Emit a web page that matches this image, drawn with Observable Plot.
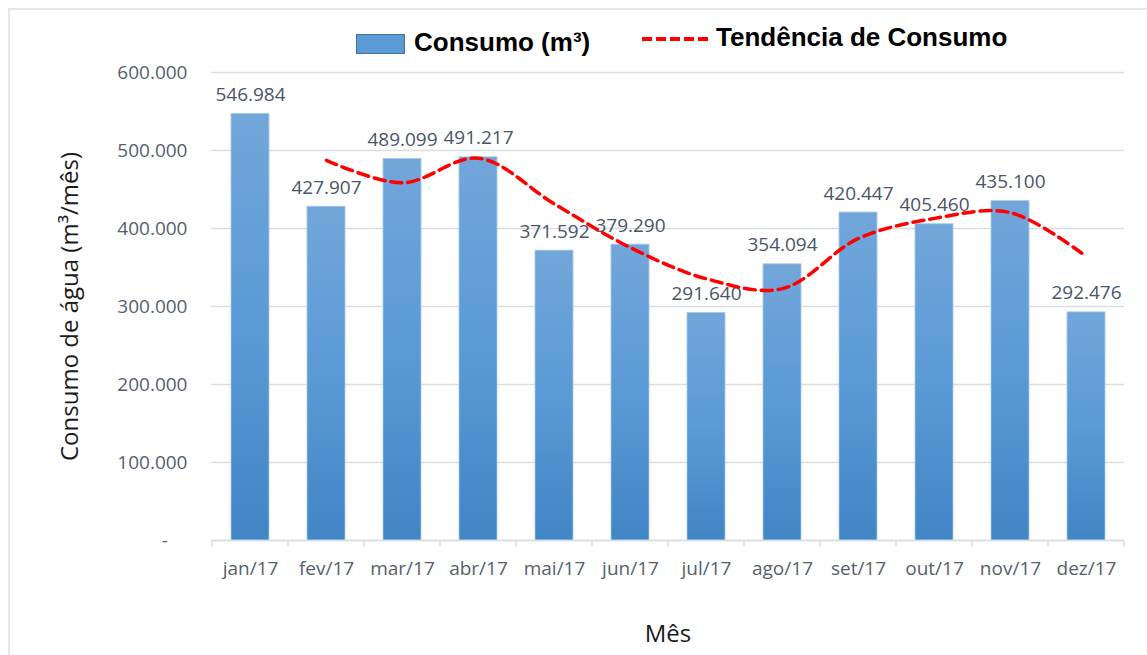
<!DOCTYPE html>
<html>
<head>
<meta charset="utf-8">
<script src="https://cdn.jsdelivr.net/npm/d3@7"></script>
<script src="https://cdn.jsdelivr.net/npm/@observablehq/plot@0.6"></script>
<style>
  html, body { margin: 0; padding: 0; background: #fff; }
  #wrap { position: relative; width: 1147px; height: 655px; overflow: hidden; }
  #frame { position: absolute; left: 8px; top: 8px; width: 1160px; height: 660px; border: 2px solid #e4e8ee; box-sizing: border-box; }
  #legend { position: absolute; top: 24px; left: 0; width: 1147px; height: 40px; font-family: "Liberation Sans", Arial, sans-serif; font-weight: bold; font-size: 26px; color: #000; }
  #legend .sw { position: absolute; left: 356px; top: 10px; width: 47px; height: 18px; background: #5b9bd5; border: 1px solid #41719c; }
  #legend .t1 { position: absolute; left: 414px; top: 3px; }
  #legend .ln { position: absolute; left: 641px; top: 9px; }
  #legend .t2 { position: absolute; left: 716px; top: -2px; }
  #chart { position: absolute; left: 0; top: 0; }
</style>
</head>
<body>
<div id="wrap">
  <div id="frame"></div>
  <div id="chart"></div>
  <div id="legend">
    <div class="sw"></div>
    <div class="t1">Consumo (m³)</div>
    <svg class="ln" width="70" height="12"><line x1="1" y1="6" x2="68" y2="6" stroke="#ff0000" stroke-width="4" stroke-dasharray="10,4"/></svg>
    <div class="t2">Tendência de Consumo</div>
  </div>
</div>
<script>
const months = ["jan/17","fev/17","mar/17","abr/17","mai/17","jun/17","jul/17","ago/17","set/17","out/17","nov/17","dez/17"];
const consumo = [546984, 427907, 489099, 491217, 371592, 379290, 291640, 354094, 420447, 405460, 435100, 292476];
const trendMonths = ["fev/17","mar/17","abr/17","mai/17","jun/17","jul/17","ago/17","set/17","out/17","nov/17","dez/17"];
const tendencia = [487446, 458503, 490158, 431405, 375441, 335465, 322867, 387271, 412954, 420280, 363788];
const yTicks = [0, 100000, 200000, 300000, 400000, 500000, 600000];

const bars = months.map((m, i) => ({mes: m, valor: consumo[i]}));
const trend = trendMonths.map((m, i) => ({mes: m, valor: tendencia[i]}));

const br = d3.formatLocale({decimal: ",", thousands: ".", grouping: [3], currency: ["R$", ""]});
const fmt = br.format(",.0f");
const fontFam = "'Open Sans', 'Noto Sans', sans-serif";

const chart = Plot.plot({
  width: 1147,
  height: 655,
  marginLeft: 211,
  marginRight: 23,
  marginTop: 72,
  marginBottom: 115,
  style: {fontFamily: fontFam, background: "transparent"},
  x: {domain: months, paddingInner: 0.5, paddingOuter: 0.25, label: null},
  y: {domain: [0, 600000], label: null},
  marks: [
    Plot.gridY(yTicks, {stroke: "#d9dde3", strokeOpacity: 1, strokeWidth: 1.5}),
    Plot.axisY(yTicks, {
      tickSize: 0, tickPadding: 24, fontSize: 19, fill: "#56606f",
      tickFormat: d => d === 0 ? "-\u00a0\u00a0\u00a0\u00a0" : fmt(d)
    }),
    Plot.axisX({tickSize: 0, tickPadding: 21, fontSize: 19, fill: "#56606f"}),
    Plot.barY(bars, {x: "mes", y: "valor", fill: "url(#barGrad)", stroke: "#a9c8e8", strokeWidth: 0.8}),
    Plot.ruleY([0], {stroke: "#d9dde3", strokeWidth: 1.5}),
    Plot.text(bars, {x: "mes", y: "valor", text: d => fmt(d.valor), dy: -19, fontSize: 19, fill: "#4a5568"}),
    Plot.lineY(trend, {x: "mes", y: "valor", stroke: "#ff0000", strokeWidth: 3.5, strokeDasharray: "11,6", curve: "catmull-rom"}),
    Plot.text(["Consumo de água (m³/mês)"], {frameAnchor: "left", textAnchor: "middle", dx: -141, rotate: -90, fontSize: 24, fill: "#1a1a1a", text: d => d}),
    Plot.text(["Mês"], {frameAnchor: "bottom", dy: 101, fontSize: 24, fill: "#1a1a1a", text: d => d})
  ]
});

// gradient for bars
const svg = d3.select(chart);
const defs = svg.insert("defs", ":first-child");
const g = defs.append("linearGradient").attr("id", "barGrad").attr("x1", 0).attr("y1", 0).attr("x2", 0).attr("y2", 1);
g.append("stop").attr("offset", "0%").attr("stop-color", "#72a6da");
g.append("stop").attr("offset", "50%").attr("stop-color", "#5a9ad6");
g.append("stop").attr("offset", "100%").attr("stop-color", "#4285c5");

// category boundary ticks on the x axis, from the plot's own x scale
const xs = chart.scale("x");
const ys = chart.scale("y");
const step = xs.step;
const y0 = ys.apply(0);
const tickG = svg.append("g").attr("stroke", "#d9dde3").attr("stroke-width", 1.5);
months.forEach((m, i) => {
  const xl = xs.apply(m) - step * 0.25;
  tickG.append("line").attr("x1", xl).attr("x2", xl).attr("y1", y0).attr("y2", y0 + 7);
});
const xr = xs.apply(months[months.length - 1]) + xs.bandwidth + step * 0.25;
tickG.append("line").attr("x1", xr).attr("x2", xr).attr("y1", y0).attr("y2", y0 + 7);

document.getElementById("chart").appendChild(chart);
</script>
</body>
</html>
